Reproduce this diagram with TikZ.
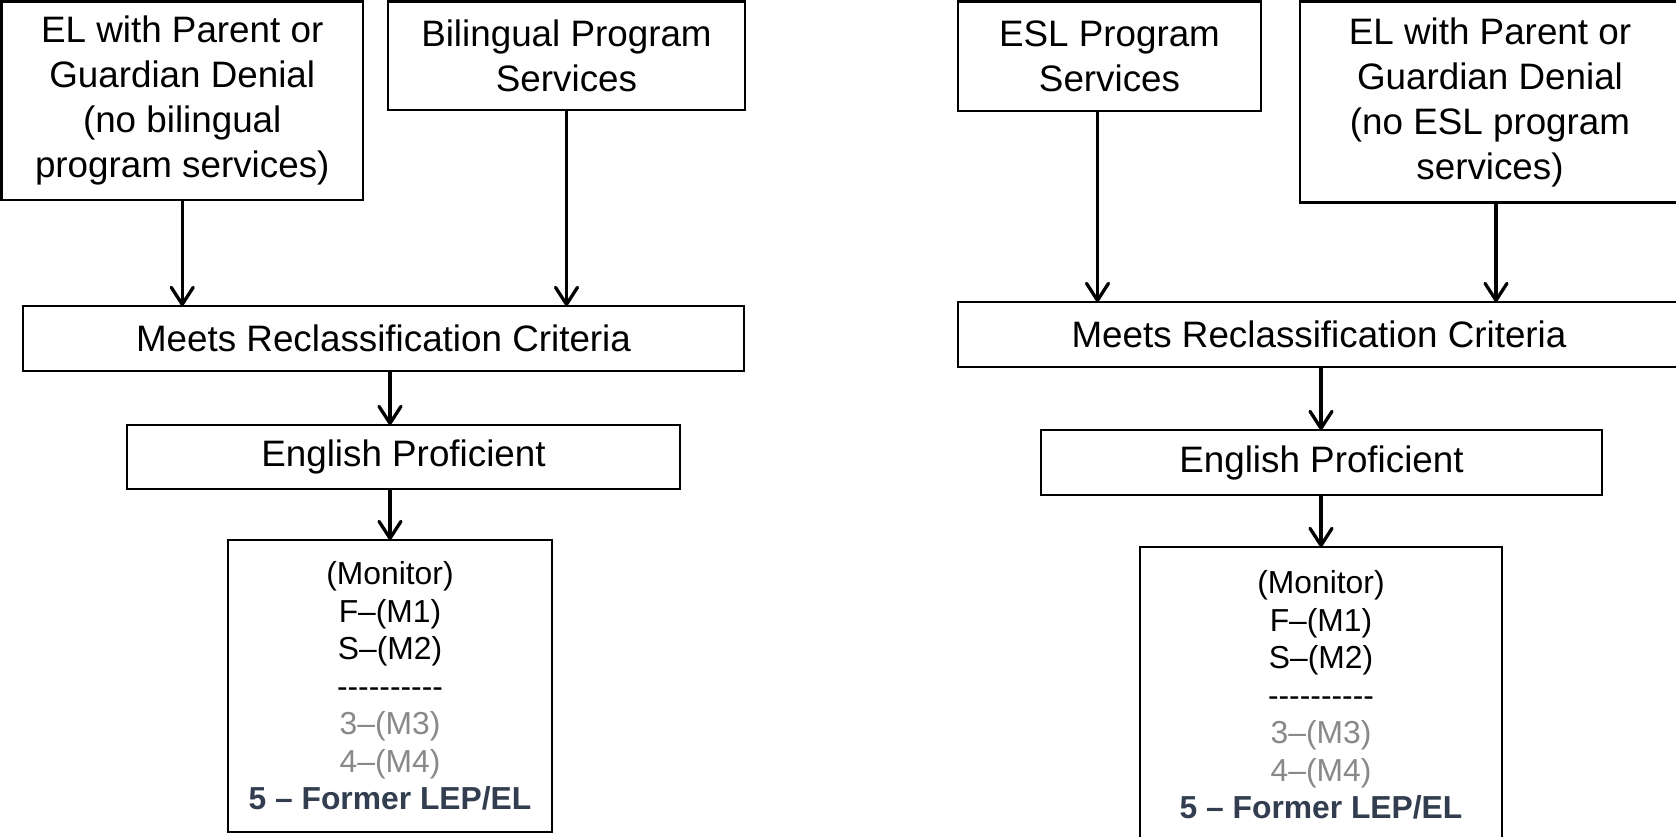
\documentclass[tikz,border=0pt]{standalone}
\usepackage{fontspec}
\setmainfont{Liberation Sans}
\usetikzlibrary{positioning, arrows.meta}
\definecolor{formerblue}{RGB}{50,62,79}
\definecolor{monitorgray}{RGB}{137,137,137}
\tikzstyle{bigbox} = [rectangle, draw=black, line width=2.8pt, fill=white, align=center, inner sep=0pt, outer sep=0pt, font=\fontsize{36.8}{45}\selectfont]
\tikzstyle{monitorbox} = [bigbox, font=\fontsize{31.8}{37.5}\selectfont]
\tikzstyle{arrow} = [line width=3.3pt, -{Straight Barb[length=17pt,width=22pt,round]}]
\newcommand{\dashrow}{-{}-{}-{}-{}-{}-{}-{}-{}-{}-}
\newcommand{\monitortext}{(Monitor)\\F–(M1)\\S–(M2)\\\dashrow\\{\color{monitorgray}3–(M3)}\\{\color{monitorgray}4–(M4)}\\{\bfseries\color{formerblue}5 – Former LEP/EL}}

\begin{document}
\begin{tikzpicture}[x=1pt, y=-1pt]

        \useasboundingbox (0,0) rectangle (1676,837);
        \clip (0,0) rectangle (1676,837);

        % bilingual side
        \node (elL) [bigbox, minimum width=361.5pt, minimum height=198.5pt] at (182.25,100.75) {EL with Parent or\\Guardian Denial\\(no bilingual\\program services)};
        \node (bilL) [bigbox, minimum width=357pt, minimum height=108.5pt] at (566.5,55.75) {Bilingual Program\\Services};
        \node (meetsL) [bigbox, minimum width=721pt, minimum height=65pt] at (383.5,338.5) {Meets Reclassification Criteria};
        \node (engL) [bigbox, minimum width=553pt, minimum height=64pt, below=54pt of meetsL, xshift=20pt] {English Proficient};
        \node (monL) [monitorbox, minimum width=324pt, minimum height=292pt, below=51pt of engL, xshift=-13.5pt] {\monitortext};

        % ESL side
        \node (eslR) [bigbox, minimum width=303pt, minimum height=109.5pt] at (1109.5,56.25) {ESL Program\\Services};
        \node (elR) [bigbox, minimum width=380pt, minimum height=201pt] at (1490,102) {EL with Parent or\\Guardian Denial\\(no ESL program\\services)};
        \node (meetsR) [bigbox, minimum width=722pt, minimum height=65pt] at (1319,334.5) {Meets Reclassification Criteria};
        \node (engR) [bigbox, minimum width=561pt, minimum height=65pt, below=63pt of meetsR, xshift=2.5pt] {English Proficient};
        \node (monR) [monitorbox, minimum width=362pt, minimum height=296pt, below=52pt of engR, xshift=-0.5pt] {\monitortext};

        % Arrows
        \draw [arrow] (elL.south) -- (elL.south |- meetsL.north);
        \draw [arrow] (bilL.south) -- (bilL.south |- meetsL.north);
        \draw [arrow] (meetsL.south -| monL.north) -- (engL.north -| monL.north);
        \draw [arrow] (engL.south -| monL.north) -- (monL.north);
        \draw [arrow] ([xshift=-12pt]eslR.south) -- ([xshift=-12pt]eslR.south |- meetsR.north);
        \draw [arrow] ([xshift=6pt]elR.south) -- ([xshift=6pt]elR.south |- meetsR.north);
        \draw [arrow] (meetsR.south -| monR.north) -- (engR.north -| monR.north);
        \draw [arrow] (engR.south -| monR.north) -- (monR.north);

    \end{tikzpicture}
\end{document}
